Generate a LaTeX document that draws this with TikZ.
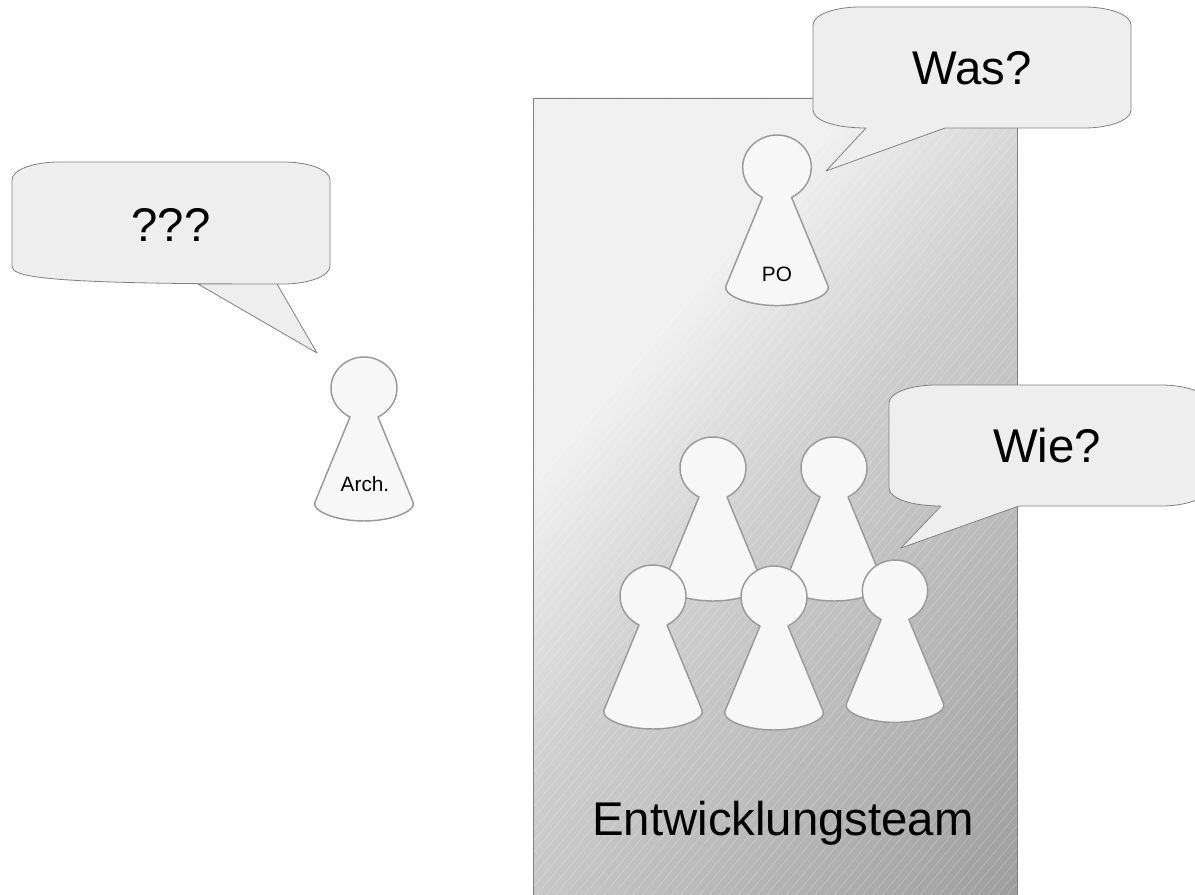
\documentclass[tikz,border=0pt]{standalone}
\usepackage{fontspec}
\setmainfont{Liberation Sans}
\definecolor{cA}{HTML}{F0F0F0}
\definecolor{cB}{HTML}{CFCFCF}
\definecolor{cC}{HTML}{9E9E9E}
\definecolor{bubblefill}{HTML}{EEEEEE}
\definecolor{bubbleline}{HTML}{808080}
\definecolor{pawnfill}{HTML}{F7F7F7}
\definecolor{pawnline}{HTML}{9A9A9A}
\pgfdeclarehorizontalshading{teamshade}{100bp}{color(0bp)=(cA); color(39bp)=(cA); color(50bp)=(cB); color(75bp)=(cC); color(100bp)=(cC)}
\tikzset{
  bubble/.style={fill=bubblefill,draw=bubbleline,line width=0.6pt,line join=round},
  pawnshape/.style={fill=pawnfill,draw=pawnline,line width=1.1pt,line join=round},
  big/.style={font=\fontsize{35.5}{40}\selectfont,inner sep=0pt},
  small/.style={font=\fontsize{15.6}{18}\selectfont,inner sep=0pt},
}
% #1 centre x, #2 top y, #3 scale
\newcommand{\pawnfig}[3]{%
  \draw[pawnshape,shift={(#1,#2)},scale=#3]
    (14,60) .. controls (24,55) and (33,45) .. (33,31)
    .. controls (33,14) and (18,0) .. (0,0)
    .. controls (-18,0) and (-33,14) .. (-33,31)
    .. controls (-33,45) and (-24,55) .. (-14,60)
    -- (-49,145) .. controls (-53,153) and (-30,164) .. (0,164)
    .. controls (30,164) and (53,153) .. (49,145) -- cycle;}
% #1 left, #2 top, #3 right, #4 bottom, #5 tail start x, #6 tip, #7 tail end x, tail on bottom edge
\newcommand{\bubblefig}[7]{%
  \draw[bubble] (#1+47,#2) -- (#3-47,#2)
    .. controls (#3-21,#2) and (#3,#2+8) .. (#3,#2+18)
    -- (#3,#4-18)
    .. controls (#3,#4-8) and (#3-21,#4) .. (#3-47,#4)
    -- (#7,#4) -- #6 -- (#5,#4)
    .. controls (#1+21,#4) and (#1,#4-8) .. (#1,#4-18)
    -- (#1,#2+18)
    .. controls (#1,#2+8) and (#1+21,#2) .. (#1+47,#2) -- cycle;}
\begin{document}
\begin{tikzpicture}[x=0.75pt,y=-0.75pt]
\useasboundingbox (0,0) rectangle (1195,895);
\begin{scope}
  \clip (533,98) rectangle (1017,895);
  \shade[shading=teamshade,shading angle=-40] (334,55) rectangle (1216,937);
  \foreach \i in {-60,...,60} {
    \draw[white,opacity=0.28,line width=0.4pt] (775+\i*9.6-500,496+596) -- (775+\i*9.6+500,496-596);
  }
\end{scope}
\draw[draw=bubbleline,line width=0.6pt] (533,895) -- (533,98) -- (1017,98) -- (1017,895);
\pawnfig{364}{357}{1}
\pawnfig{777}{135}{1.04}
\pawnfig{713}{437}{1}
\pawnfig{834}{437}{1}
\pawnfig{653}{565}{1}
\pawnfig{774}{566}{1}
\pawnfig{895}{560}{0.99}
\bubblefig{12}{162}{330}{284}{277}{(317,353)}{198}
\bubblefig{813}{7}{1131}{128}{866}{(826,171)}{945}
\bubblefig{889}{385}{1208}{506}{941}{(901,548)}{1019}
\node[big] (q) at (171,225) {???};
\node[big] (was) at (972,68) {Was?};
\node[big] (wie) at (1047,446) {Wie?};
\node[big] (team) at (783,823) {Entwicklungsteam};
\node[small] (arch) at (365,484) {Arch.};
\node[small] (po) at (777,274) {PO};
\end{tikzpicture}
\end{document}
